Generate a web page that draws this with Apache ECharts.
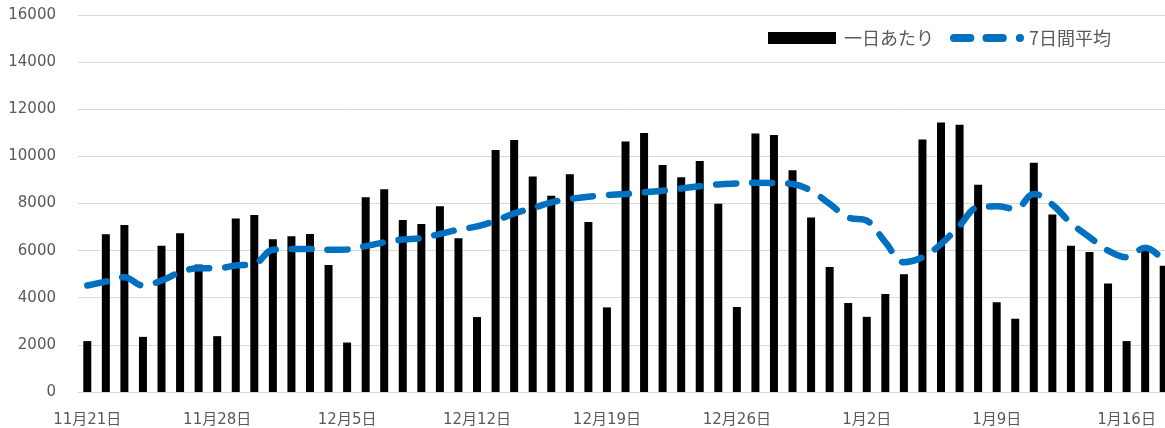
<!DOCTYPE html>
<html><head><meta charset="utf-8">
<script src="https://cdn.jsdelivr.net/npm/echarts@6/dist/echarts.min.js"></script>
<style>html,body{margin:0;padding:0;background:#fff;overflow:hidden;width:1165px;height:428px}#c{width:1173px;height:428px}</style>
</head><body><div id="c"></div>
<script>
const categories = [
 '11月21日','11月22日','11月23日','11月24日','11月25日','11月26日','11月27日',
 '11月28日','11月29日','11月30日','12月1日','12月2日','12月3日','12月4日',
 '12月5日','12月6日','12月7日','12月8日','12月9日','12月10日','12月11日',
 '12月12日','12月13日','12月14日','12月15日','12月16日','12月17日','12月18日',
 '12月19日','12月20日','12月21日','12月22日','12月23日','12月24日','12月25日',
 '12月26日','12月27日','12月28日','12月29日','12月30日','12月31日','1月1日',
 '1月2日','1月3日','1月4日','1月5日','1月6日','1月7日','1月8日',
 '1月9日','1月10日','1月11日','1月12日','1月13日','1月14日','1月15日',
 '1月16日','1月17日','1月18日'
];
const daily = [
 2160,6690,7090,2340,6210,6740,5410,
 2370,7360,7510,6480,6610,6710,5390,
 2100,8270,8610,7300,7130,7880,6520,
 3180,10270,10690,9150,8330,9240,7220,
 3590,10630,10990,9630,9110,9800,7990,
 3610,10970,10910,9410,7410,5310,3780,
 3190,4160,5000,10720,11440,11340,8800,
 3810,3110,9730,7530,6210,5940,4600,
 2160,6210,5360
];
const avg7 = [
 4520,4690,4870,4520,4730,5080,5250,
 5250,5365,5435,6040,6070,6070,6040,
 6050,6190,6350,6470,6530,6710,6890,
 7030,7270,7580,7800,8050,8190,8290,
 8360,8400,8470,8540,8640,8730,8810,
 8850,8880,8870,8830,8540,7980,7410,
 7270,6360,5510,5720,6280,7060,7840,
 7880,7770,8400,7950,7170,6570,6000,
 5720,6120,5560
];
const yTicks = [0,2000,4000,6000,8000,10000,12000,14000,16000];
const seriesNames = ['一日あたり','7日間平均'];

const barIcon = 'path://M0,0H68V12H0Z';
const dashIcon = 'path://M4,2H20A4,4 0 0 1 20,10H4A4,4 0 0 1 4,2Z' +
  'M36,2H52A4,4 0 0 1 52,10H36A4,4 0 0 1 36,2Z' +
  'M69,2A4,4 0 0 1 69,10A4,4 0 0 1 69,2Z';

const chart = echarts.init(document.getElementById('c'), null, {renderer:'canvas'});
const txt = '#595959';
chart.setOption({
  animation:false,
  textStyle:{fontFamily:'"DejaVu Sans","Noto Sans CJK JP",sans-serif'},
  grid:{left:78, right:0, top:15, bottom:35, containLabel:false},
  legend:{
    left:768, top:29, padding:0, itemGap:16, itemWidth:74, itemHeight:12,
    symbolKeepAspect:true,
    data:[
      {name:seriesNames[0], icon:barIcon},
      {name:seriesNames[1], icon:dashIcon}
    ],
    textStyle:{fontSize:18, color:txt, fontFamily:'"Noto Sans CJK JP",sans-serif'}
  },
  xAxis:{
    type:'category', data:categories, boundaryGap:true,
    axisLine:{lineStyle:{color:'#d9d9d9', width:1}},
    axisTick:{interval:6, length:5, lineStyle:{color:'#d9d9d9'}},
    axisLabel:{interval:6, color:txt, fontSize:15, margin:21}
  },
  yAxis:{
    type:'value', min:yTicks[0], max:yTicks[yTicks.length-1], interval:2000,
    axisLine:{show:false}, axisTick:{show:false},
    axisLabel:{color:txt, fontSize:15, margin:22, formatter:function(v){return String(v);}},
    splitLine:{lineStyle:{color:'#d9d9d9', width:1}}
  },
  series:[
    {name:seriesNames[0], type:'bar', data:daily, barWidth:8,
     itemStyle:{color:'#000'}},
    {name:seriesNames[1], type:'line', data:avg7, smooth:0.4, symbol:'none',
     lineStyle:{color:'#0070C0', width:6.5, type:[20,16], cap:'round'},
     itemStyle:{color:'#0070C0'}}
  ]
});
</script></body></html>
